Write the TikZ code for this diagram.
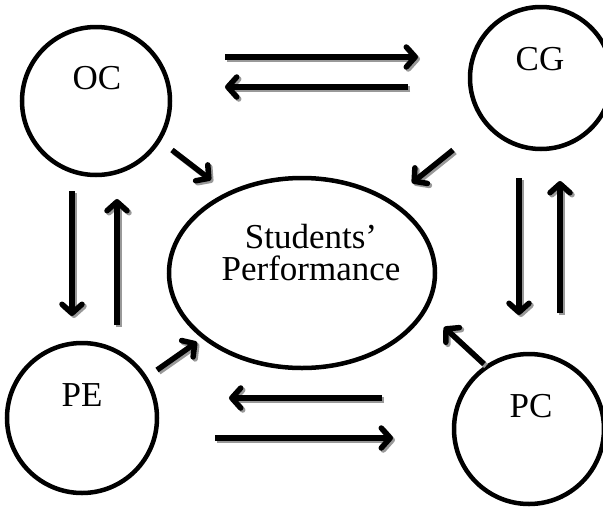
\documentclass[tikz,border=0pt]{standalone}
\usepackage{fontspec}
\setmainfont{Liberation Serif}
\usetikzlibrary{arrows.meta,calc}
\begin{document}
\begin{tikzpicture}[x=1pt,y=-1pt,
  ring/.style={draw=black,line width=4.5pt,circle,inner sep=0pt},
  lbl/.style={font=\fontsize{35}{39}\selectfont,inner sep=0pt},
  arr/.style={line width=5.5pt,-{Straight Barb[length=9pt,width=20pt,line cap=round,line join=round]}},
  shade/.style={arr,draw=black!40}]
\useasboundingbox (0,0) rectangle (603,512);
\node[ring,minimum size=148pt] (OC) at (96,101) {};
\node[ring,minimum size=142pt] (CG) at (541,78) {};
\node[ring,minimum size=150pt] (PE) at (82,418) {};
\node[ring,minimum size=150pt] (PC) at (529,429) {};
\draw[line width=4.5pt] (302,273) ellipse [x radius=133, y radius=95];
\node[inner sep=0pt] (SP) at (302,273) {};
\node[lbl] (tOC) at (97,78) {OC};
\node[lbl] (tCG) at (540,59) {CG};
\node[lbl] (tPE) at (82,395) {PE};
\node[lbl] (tPC) at (531,406) {PC};
\node[lbl,align=center] (tSP) at (311,253) {Students'\\[-7pt]Performance};
% arrow endpoints
\coordinate (a1s) at (225,57);  \coordinate (a1e) at (418,57);
\coordinate (a2s) at (408,87);  \coordinate (a2e) at (225,87);
\coordinate (a3s) at (72,191);  \coordinate (a3e) at (72,316);
\coordinate (a4s) at (117,325); \coordinate (a4e) at (117,199);
\coordinate (a5s) at (519,178); \coordinate (a5e) at (519,315);
\coordinate (a6s) at (560,313); \coordinate (a6e) at (560,181);
\coordinate (a7s) at (382,398); \coordinate (a7e) at (229,398);
\coordinate (a8s) at (215,438); \coordinate (a8e) at (393,438);
\coordinate (d1s) at (172,150); \coordinate (d1e) at (211,180);
\coordinate (d2s) at (453,150); \coordinate (d2e) at (412,183);
\coordinate (d3s) at (157,370); \coordinate (d3e) at (197,342);
\coordinate (d4s) at (484,364); \coordinate (d4e) at (444,327);
\foreach \s/\e in {a1s/a1e,a2s/a2e,a3s/a3e,a4s/a4e,a5s/a5e,a6s/a6e,a7s/a7e,a8s/a8e,d1s/d1e,d2s/d2e,d3s/d3e,d4s/d4e}{
  \draw[shade] ([shift={(2,2)}]\s) -- ([shift={(2,2)}]\e);
  \draw[arr] (\s) -- (\e);}
\end{tikzpicture}
\end{document}
